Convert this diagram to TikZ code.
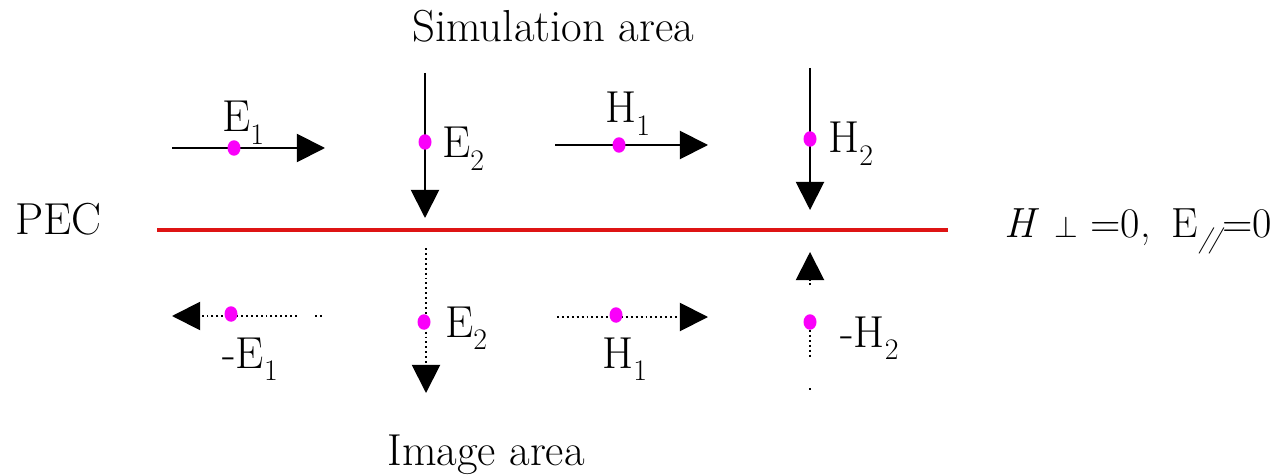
\documentclass[tikz,border=0pt]{standalone}
\usepackage{fontspec}
\usetikzlibrary{arrows.meta,shapes.geometric}

\definecolor{ptcol}{RGB}{250,0,250}
\definecolor{wallcol}{RGB}{222,20,20}
\newcommand{\fsub}[2]{#1\raisebox{-0.28em}{\fontsize{17}{20}\selectfont #2}}

\begin{document}
\begin{tikzpicture}[
    x={(0.02cm,0cm)},
    y={(0cm,-0.02cm)},
    font=\fontsize{25.5}{30}\selectfont,
    vec/.style={line width=1.1pt, -{Triangle[length=16pt,width=16pt]}},
    img/.style={vec, dash pattern=on 1.1pt off 1.7pt},
    dotline/.style={line width=1.1pt, dash pattern=on 1.1pt off 1.7pt},
    pt/.style={ellipse, fill=ptcol, inner sep=0pt, minimum width=0.26cm, minimum height=0.31cm},
    lbl/.style={anchor=base west, inner sep=0pt},
]

% Canvas
\useasboundingbox (0,0) rectangle (1277,476);

% Titles
\node[lbl] (sim) at (412,42) {Simulation area};
\node[lbl] (imga) at (387,465) {Image area};
\node[lbl] (pec) at (15,235) {PEC};
\node[lbl, font=\fontsize{24}{28}\selectfont] (bc) at (1004,237)
    {\textit{H}\hspace{0.35em}{\fontsize{17}{17}\selectfont$\perp$}\hspace{0.3em}=0,\hspace{0.5em}E\raisebox{-0.25em}{\fontsize{15}{15}\selectfont\textit{/\kern-0.12em/}}\kern-0.05em=0};

% PEC wall
\coordinate (wallL) at (157,230);
\coordinate (wallR) at (948,230);
\draw[wallcol, line width=2.3pt] (wallL) -- (wallR);

% Simulation area (solid)
\coordinate (e1a) at (172,148);
\coordinate (e1b) at (325,148);
\draw[vec] (e1a) -- (e1b);
\node[pt] (e1) at (234,148) {};
\node[lbl] (e1l) at (222,132) {\fsub{E}{1}};

\coordinate (e2a) at (425,73);
\coordinate (e2b) at (425,218);
\draw[vec] (e2a) -- (e2b);
\node[pt] (e2) at (425,142) {};
\node[lbl] (e2l) at (442,158) {\fsub{E}{2}};

\coordinate (h1a) at (555,145);
\coordinate (h1b) at (708,145);
\draw[vec] (h1a) -- (h1b);
\node[pt] (h1) at (619,145) {};
\node[lbl] (h1l) at (605,123) {\fsub{H}{1}};

\coordinate (h2a) at (810,68);
\coordinate (h2b) at (810,210);
\draw[vec] (h2a) -- (h2b);
\node[pt] (h2) at (810,139) {};
\node[lbl] (h2l) at (828,153) {\fsub{H}{2}};

% Image area (dotted)
\coordinate (ie1a) at (297,316);
\coordinate (ie1b) at (172,316);
\coordinate (ie1c) at (315,316);
\coordinate (ie1d) at (323,316);
\draw[img] (ie1a) -- (ie1b);
\draw[dotline] (ie1c) -- (ie1d);
\node[pt] (ie1) at (231,314) {};
\node[lbl] (ie1l) at (222,368) {-\fsub{E}{1}};

\coordinate (ie2a) at (426,248);
\coordinate (ie2b) at (426,393);
\draw[img] (ie2a) -- (ie2b);
\node[pt] (ie2) at (424,322) {};
\node[lbl] (ie2l) at (445,337) {\fsub{E}{2}};

\coordinate (ih1a) at (557,317);
\coordinate (ih1b) at (708,317);
\draw[img] (ih1a) -- (ih1b);
\node[pt] (ih1) at (616,315) {};
\node[lbl] (ih1l) at (602,368) {\fsub{H}{1}};

\coordinate (ih2a) at (810,285);
\coordinate (ih2b) at (810,252);
\coordinate (ih2c) at (810,330);
\coordinate (ih2d) at (810,358);
\coordinate (ih2e) at (810,388);
\coordinate (ih2f) at (810,391);
\draw[img] (ih2a) -- (ih2b);
\draw[dotline] (ih2c) -- (ih2d) (ih2e) -- (ih2f);
\node[pt] (ih2) at (810,322) {};
\node[lbl] (ih2l) at (840,347) {-\fsub{H}{2}};

\end{tikzpicture}
\end{document}
